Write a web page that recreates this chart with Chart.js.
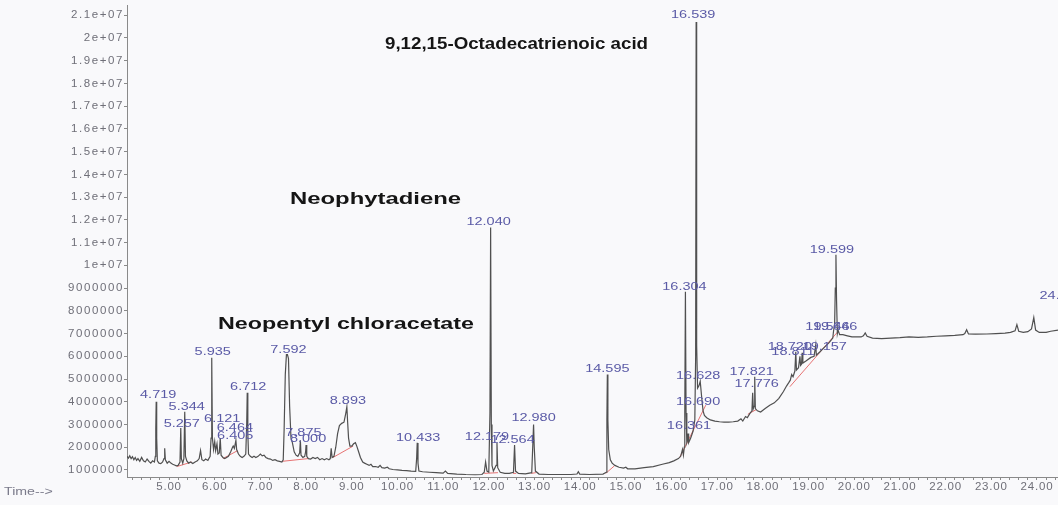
<!DOCTYPE html>
<html><head><meta charset="utf-8">
<script src="https://cdn.jsdelivr.net/npm/chart.js@4/dist/chart.umd.min.js"></script>
<style>html,body{margin:0;padding:0;background:#f9f9fb;}canvas{display:block}</style>
</head><body>
<canvas id="c" width="1058" height="505"></canvas>
<script>
// ---- data (retention time in minutes, abundance in millions of counts) ----
const times = [4.08,4.11,4.14,4.17,4.2,4.23,4.26,4.29,4.32,4.36,4.4,4.44,4.48,4.52,4.56,4.6,4.64,4.68,4.7,4.71,4.719,4.73,4.745,4.78,4.82,4.86,4.89,4.905,4.92,4.96,
5.0,5.04,5.08,5.12,5.16,5.2,5.24,5.257,5.27,5.3,5.325,5.344,5.36,5.39,5.43,5.47,5.52,5.57,5.62,5.66,5.69,5.72,5.76,5.8,5.85,5.9,5.92,5.935,5.95,5.975,
6.0,6.02,6.05,6.07,6.1,6.121,6.14,6.18,6.22,6.26,6.3,6.35,6.39,6.405,6.43,6.464,6.48,6.52,6.56,6.6,6.64,6.68,6.7,6.712,6.725,6.74,6.78,6.82,6.86,6.9,6.95,
7.0,7.04,7.08,7.12,7.17,7.22,7.27,7.32,7.37,7.42,7.47,7.5,7.52,7.545,7.57,7.592,7.615,7.64,7.67,7.7,7.74,7.78,7.82,7.86,7.875,7.89,7.93,7.97,7.99,
8.0,8.015,8.05,8.1,8.15,8.2,8.25,8.3,8.35,8.4,8.45,8.5,8.53,8.55,8.57,8.61,8.65,8.69,8.73,8.78,8.83,8.87,8.893,8.91,8.93,8.96,
9.0,9.04,9.08,9.11,9.15,9.19,9.24,9.28,9.33,9.38,9.42,9.46,9.52,9.58,9.62,9.66,9.72,9.78,9.82,9.9,
10.0,10.1,10.2,10.3,10.4,10.42,10.433,10.45,10.47,10.55,10.7,10.85,11.0,11.05,11.1,11.3,11.5,11.7,11.85,11.9,11.93,11.96,
12.0,12.025,12.04,12.055,12.07,12.1,12.16,12.179,12.195,12.25,12.35,12.45,12.54,12.564,12.585,12.65,12.8,12.94,12.965,12.98,12.995,
13.02,13.1,13.3,13.5,13.8,13.93,13.96,13.99,14.2,14.5,14.57,14.585,14.595,14.607,14.625,14.66,14.7,14.76,14.85,14.95,
15.0,15.04,15.2,15.4,15.6,15.8,15.95,16.05,16.15,16.2,16.24,16.26,16.28,16.29,16.304,16.318,16.335,16.35,16.361,16.375,16.42,16.47,16.51,16.528,16.539,16.55,16.57,16.6,16.628,16.66,16.69,16.72,16.77,16.85,16.95,
17.05,17.15,17.25,17.35,17.45,17.52,17.56,17.62,17.66,17.72,17.76,17.776,17.79,17.808,17.821,17.835,17.88,17.95,
18.05,18.15,18.25,18.35,18.45,18.52,18.57,18.6,18.63,18.66,18.7,18.72,18.735,18.78,18.811,18.825,18.845,18.86,18.875,18.95,
19.05,19.12,19.157,19.17,19.25,19.35,19.45,19.53,19.546,19.57,19.585,19.599,19.612,19.63,19.646,19.68,19.75,19.85,19.95,
20.05,20.15,20.2,20.24,20.28,20.4,20.6,20.8,21.0,21.2,21.4,21.6,21.8,22.0,22.2,22.38,22.42,22.46,22.5,22.65,22.9,23.1,23.3,23.42,23.52,23.56,23.6,23.7,23.8,23.88,23.93,23.97,24.05,24.2,24.3,24.46];
const abundance = [1.6,1.52,1.62,1.5,1.58,1.45,1.55,1.42,1.5,1.38,1.55,1.4,1.35,1.48,1.38,1.3,1.4,1.35,1.6,2.8,4.0,2.4,1.4,1.3,1.28,1.35,1.5,1.95,1.45,1.3,
1.38,1.3,1.25,1.22,1.18,1.2,1.35,2.85,1.5,1.3,1.5,3.56,1.6,1.4,1.3,1.35,1.28,1.35,1.4,1.5,1.85,1.45,1.4,1.48,1.42,1.6,2.4,5.93,2.4,1.9,
2.25,1.85,2.15,1.7,1.75,2.4,1.65,1.55,1.5,1.55,1.6,1.8,2.0,2.05,1.95,2.3,1.9,1.7,1.6,1.55,1.6,1.7,3.0,4.4,2.6,1.7,1.6,1.55,1.6,1.55,1.6,
1.7,1.62,1.65,1.55,1.5,1.48,1.42,1.45,1.4,1.38,1.35,1.45,2.8,5.2,6.07,6.07,5.9,3.8,2.4,2.2,1.8,1.65,1.6,1.75,2.3,1.65,1.55,1.6,1.8,
2.1,1.6,1.5,1.48,1.55,1.5,1.55,1.45,1.5,1.45,1.5,1.45,1.5,1.95,1.55,1.6,2.0,2.6,2.95,3.05,3.1,3.5,3.78,3.1,2.4,2.05,
2.05,2.15,2.2,2.05,1.8,1.55,1.35,1.3,1.25,1.2,1.25,1.15,1.15,1.12,1.2,1.1,1.08,1.12,1.05,1.02,
1.0,0.98,0.97,0.95,0.94,1.5,2.19,1.3,0.95,0.92,0.9,0.88,0.86,0.95,0.85,0.82,0.8,0.79,0.8,0.9,1.35,0.95,
0.9,3.5,11.66,3.0,1.2,0.95,1.2,2.2,1.1,0.9,0.85,0.85,0.9,2.1,0.95,0.85,0.83,0.88,2.2,3.0,2.0,
0.95,0.82,0.8,0.8,0.8,0.82,0.92,0.82,0.8,0.82,0.9,3.2,5.2,3.2,1.9,1.45,1.3,1.2,1.12,1.08,
1.12,1.05,1.05,1.1,1.15,1.25,1.32,1.4,1.5,1.6,1.9,1.65,2.0,3.5,8.84,3.5,2.2,2.3,2.6,2.2,2.4,2.7,3.2,6.0,20.7,6.5,4.6,4.7,4.9,4.2,3.6,3.4,3.3,3.2,3.15,
3.12,3.1,3.1,3.12,3.15,3.25,3.15,3.35,3.3,3.5,3.6,4.4,3.7,3.8,5.1,3.7,3.6,3.55,
3.7,3.85,3.95,4.15,4.45,4.7,4.85,4.95,5.2,5.1,5.35,6.2,5.4,5.5,6.0,5.6,5.65,6.15,5.7,5.8,
5.95,6.0,6.5,6.05,6.2,6.4,6.6,6.8,7.1,7.4,9.0,10.47,8.5,7.0,7.15,6.95,6.95,6.9,6.85,
6.85,6.85,6.9,7.03,6.88,6.8,6.78,6.8,6.82,6.85,6.83,6.85,6.88,6.9,6.92,6.95,7.0,7.17,6.98,6.97,6.98,7.0,7.02,7.05,7.12,7.39,7.1,7.05,7.08,7.2,7.7,7.15,7.05,7.05,7.1,7.15];
// integration baselines (start/end time and abundance of each segment)
const baseStartT = [5.17,6.18,7.48,8.59,11.9,12.53,12.93,14.56,16.18,17.67,18.59];
const baseStartV = [1.15,1.5,1.38,1.55,0.85,0.85,0.85,0.85,1.55,3.45,4.66];
const baseEndT   = [5.5,6.5,8.05,9.03,12.2,12.6,13.03,14.75,16.75,17.85,19.64];
const baseEndV   = [1.35,1.85,1.5,2.05,0.88,0.85,0.88,1.18,3.85,3.65,7.08];
// peak labels (retention times) and their apex abundance
const peakLabels  = ['4.719','5.257','5.344','5.935','6.121','6.405','6.464','6.712','7.592','7.875','8.000','8.893','10.433','12.040','12.179','12.564','12.980','14.595','16.304','16.361','16.539','16.628','16.690','17.776','17.821','18.720','18.811','19.157','19.546','19.599','19.646','24.475'];
const peakHeights = [4.0,2.85,3.56,5.93,2.4,2.05,2.3,4.4,6.07,2.3,2.1,3.78,2.19,11.66,2.2,2.1,3.0,5.2,8.84,2.6,20.7,4.9,3.6,4.4,5.1,6.2,6.0,6.5,7.1,10.47,7.15,8.4];
// compound annotations
const compoundNames = ['9,12,15-Octadecatrienoic acid','Neophytadiene','Neopentyl chloracetate'];
// axis ticks
const xTickValues = [5,6,7,8,9,10,11,12,13,14,15,16,17,18,19,20,21,22,23,24];
const xTickLabels = ['5.00','6.00','7.00','8.00','9.00','10.00','11.00','12.00','13.00','14.00','15.00','16.00','17.00','18.00','19.00','20.00','21.00','22.00','23.00','24.00'];
const yTickValues = [1,2,3,4,5,6,7,8,9,10,11,12,13,14,15,16,17,18,19,20,21];
const yTickLabels = ['1000000','2000000','3000000','4000000','5000000','6000000','7000000','8000000','9000000','1e+07','1.1e+07','1.2e+07','1.3e+07','1.4e+07','1.5e+07','1.6e+07','1.7e+07','1.8e+07','1.9e+07','2e+07','2.1e+07'];

// ---- styling / placement (pixels) ----
const labelShift = [[2,-7],[1,-4],[2,-5],[1,-6],[2,-19],[2,-10],[-1,-12],[1,-6],[1,-5],[3,-7],[2,-6],[1,-6],[1,-5],[-2,-5],[-10,-6],[-2,-5],[0,-6],[0,-5],[-1,-5],[1,-7],[-3,-7],[-2,-5],[-5,-9],[4,-9],[-3,-5],[-6,-5],[-7,-4],[9,2],[-6,-4],[-4,-5],[-3,-3],[3,-6]];
const namePos = [[385,45],[290,200],[218,325]];
const nameWidth = [263,171,256];

const traceData = times.map((t,i)=>({x:t,y:abundance[i]}));
const baseData = [];
baseStartT.forEach((t,i)=>{
  baseData.push({x:t,y:baseStartV[i]});
  baseData.push({x:baseEndT[i],y:baseEndV[i]});
  baseData.push({x:baseEndT[i]+0.001,y:null});
});

const FONT = '"Liberation Sans", Arial, sans-serif';

function spacedLabels(scale, spacing){
  if (scale._spaced) return;
  scale._spaced = true;
  const orig = scale.drawLabels;
  scale.drawLabels = function(area){
    const c=this.ctx; c.save(); c.letterSpacing=spacing; orig.call(this,area); c.restore();
  };
}

const textPlugin = {
  id:'texts',
  beforeDraw(chart){
    const c=chart.ctx; c.save(); c.fillStyle='#f9f9fb'; c.fillRect(0,0,chart.width,chart.height); c.restore();
  },
  afterDatasetsDraw(chart){
    const c=chart.ctx, xs=chart.scales.x, ys=chart.scales.y;
    c.save();
    c.font='10.5px '+FONT; c.fillStyle='#5a5aa6'; c.textAlign='center'; c.textBaseline='middle';
    peakLabels.forEach((lab,i)=>{
      const px=xs.getPixelForValue(parseFloat(lab))+labelShift[i][0];
      const py=ys.getPixelForValue(peakHeights[i])+labelShift[i][1];
      c.save(); c.translate(px,py); c.scale(1.38,1); c.fillText(lab,0,0); c.restore();
    });
    c.font='bold 16px '+FONT; c.fillStyle='#151515'; c.textAlign='left';
    compoundNames.forEach((n,i)=>{
      const w=c.measureText(n).width;
      c.save(); c.translate(namePos[i][0],namePos[i][1]); c.scale(nameWidth[i]/w,1); c.fillText(n,0,0); c.restore();
    });
    c.font='10.5px '+FONT; c.fillStyle='#7a7a8a'; c.textAlign='left';
    c.save(); c.translate(4,492); c.scale(1.35,1); c.fillText('Time-->',0,0); c.restore();
    c.restore();
  }
};

new Chart(document.getElementById('c'),{
  type:'line',
  data:{datasets:[
    {data:traceData,borderColor:'#505050',borderWidth:1.2,pointRadius:0,tension:0,order:1},
    {data:baseData,borderColor:'rgba(228,100,100,0.9)',borderWidth:1,pointRadius:0,tension:0,spanGaps:false,order:2}
  ]},
  options:{
    responsive:false,animation:false,devicePixelRatio:1,
    layout:{padding:{top:5,left:0,right:0,bottom:0}},
    plugins:{legend:{display:false},tooltip:{enabled:false}},
    scales:{
      x:{type:'linear',min:4.08,max:24.46,
        afterBuildTicks(s){const t=[];for(let v=4.2;v<24.45;v+=0.2){t.push({value:Math.round(v*10)/10});}s.ticks=t;},
        afterFit(s){s.height=28;s.paddingLeft=0;s.paddingRight=0;spacedLabels(s,'0.8px');},
        grid:{drawOnChartArea:false,drawTicks:true,tickLength:3,color:'#8a8a8a',tickColor:'#8a8a8a'},
        border:{display:true,color:'#8a8a8a',width:1},
        ticks:{autoSkip:false,maxRotation:0,padding:0,color:'#6f6f78',font:{family:FONT,size:11.5},
          callback(v){const k=xTickValues.findIndex(x=>Math.abs(x-v)<1e-6);return k>=0?xTickLabels[k]:'';}}
      },
      y:{type:'linear',min:0.69,max:21.45,
        afterBuildTicks(s){s.ticks=yTickValues.map(v=>({value:v}));},
        afterFit(s){s.width=127;s.paddingTop=0;s.paddingBottom=0;spacedLabels(s,'1.6px');},
        grid:{drawOnChartArea:false,drawTicks:true,tickLength:3,color:'#8a8a8a',tickColor:'#8a8a8a'},
        border:{display:true,color:'#8a8a8a',width:1},
        ticks:{padding:0,color:'#6f6f78',font:{family:FONT,size:11.5},
          callback(v){const k=yTickValues.indexOf(v);return k>=0?yTickLabels[k]:'';}}
      }
    }
  },
  plugins:[textPlugin]
});
</script>
</body></html>
